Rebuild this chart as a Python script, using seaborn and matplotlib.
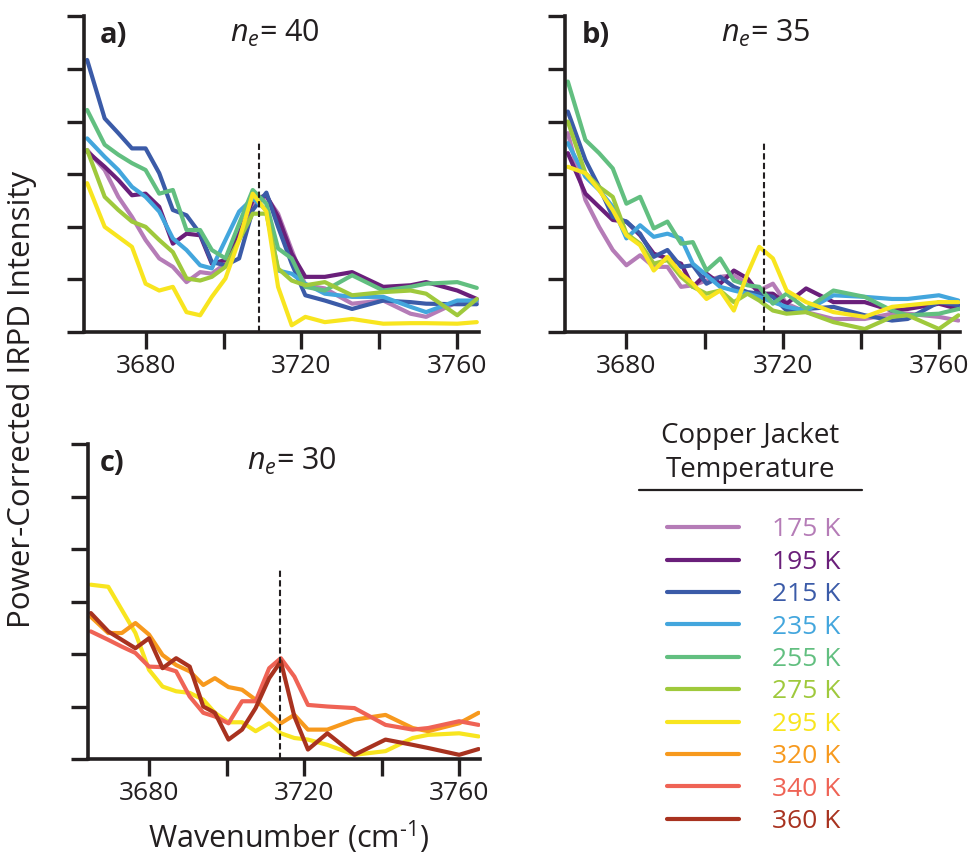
import matplotlib
matplotlib.use("Agg")
import numpy as np
import pandas as pd
import matplotlib.pyplot as plt
from matplotlib.lines import Line2D
import seaborn as sns

# ---------------- data ----------------
wavenumber = [3665, 3669.5, 3673, 3676.5, 3680, 3683.5, 3687, 3690.5, 3694, 3697,
              3700.5, 3704, 3707.5, 3711, 3714, 3717.5, 3721, 3726, 3733, 3741,
              3748, 3752, 3760, 3765]

temperatures = ["175 K", "195 K", "215 K", "235 K", "255 K", "275 K", "295 K", "320 K", "340 K", "360 K"]
temp_colors = ["#b57cb7", "#6a1f7a", "#3b5ba8", "#43a6dd", "#62bf80", "#9fc93c", "#f8e51f",
               "#f7991d", "#ef6355", "#a8321f"]

# panel a) n_e = 40
a_175 = [3.46, 3.08, 2.57, 2.19, 1.75, 1.40, 1.24, 0.95, 1.14, 1.11, 1.30, 1.75, 2.44, 2.57, 2.25, 1.56, 0.89, 0.83, 0.54, 0.60, 0.35, 0.29, 0.57, 0.57]
a_195 = [3.43, 3.14, 2.89, 2.60, 2.63, 2.38, 1.68, 1.87, 1.84, 1.30, 1.37, 1.87, 2.51, 2.60, 2.19, 1.49, 1.05, 1.05, 1.14, 0.86, 0.89, 0.95, 0.79, 0.63]
a_215 = [5.17, 4.06, 3.78, 3.49, 3.49, 3.02, 2.32, 2.22, 1.87, 1.33, 1.27, 1.40, 2.32, 2.65, 2.00, 1.30, 0.70, 0.60, 0.44, 0.60, 0.57, 0.54, 0.53, 0.53]
a_235 = [3.68, 3.33, 3.08, 2.76, 2.57, 2.29, 1.78, 1.56, 1.27, 1.21, 1.75, 2.29, 2.54, 2.32, 1.17, 1.11, 0.92, 0.73, 0.67, 0.67, 0.48, 0.38, 0.60, 0.60]
a_255 = [4.22, 3.56, 3.37, 3.21, 3.08, 2.63, 2.70, 1.94, 1.94, 1.56, 1.40, 2.06, 2.70, 2.44, 1.59, 1.40, 0.86, 0.79, 1.08, 0.79, 0.86, 0.92, 0.95, 0.84]
a_275 = [3.46, 2.57, 2.32, 2.10, 2.00, 1.75, 1.52, 1.02, 0.98, 1.05, 1.24, 1.75, 2.25, 2.25, 1.21, 0.98, 0.89, 0.95, 0.70, 0.76, 0.79, 0.73, 0.32, 0.63]
a_295 = [2.83, 2.00, 1.81, 1.62, 0.92, 0.79, 0.86, 0.38, 0.32, 0.67, 1.02, 1.75, 2.63, 2.29, 0.86, 0.13, 0.29, 0.19, 0.25, 0.16, 0.17, 0.17, 0.16, 0.19]

# panel b) n_e = 35
b_175 = [3.78, 2.51, 2.00, 1.56, 1.27, 1.46, 1.24, 1.24, 0.86, 0.89, 0.98, 1.05, 1.08, 0.92, 0.79, 0.92, 0.54, 0.38, 0.25, 0.25, 0.35, 0.35, 0.29, 0.22]
b_195 = [3.40, 2.63, 2.38, 2.13, 2.10, 1.84, 1.49, 1.40, 1.30, 0.86, 1.11, 0.92, 1.17, 1.02, 0.73, 0.73, 0.54, 0.83, 0.57, 0.57, 0.41, 0.44, 0.54, 0.44]
b_215 = [4.19, 3.27, 2.76, 2.19, 2.10, 1.87, 1.43, 1.56, 1.24, 1.27, 0.92, 1.05, 0.86, 0.76, 0.73, 0.67, 0.41, 0.44, 0.48, 0.32, 0.22, 0.25, 0.57, 0.51]
b_235 = [3.59, 2.95, 2.70, 2.38, 1.78, 2.03, 1.81, 1.87, 1.78, 1.30, 1.08, 0.86, 0.79, 0.73, 0.67, 0.57, 0.48, 0.41, 0.70, 0.67, 0.63, 0.63, 0.70, 0.60]
b_255 = [4.76, 3.65, 3.40, 3.11, 2.44, 2.57, 1.97, 2.10, 1.68, 1.71, 1.17, 1.40, 0.98, 0.89, 0.86, 0.54, 0.73, 0.44, 0.79, 0.67, 0.41, 0.32, 0.35, 0.44]
b_275 = [4.00, 3.02, 2.76, 2.57, 1.87, 1.68, 1.30, 1.37, 1.05, 0.86, 0.73, 0.79, 0.57, 0.73, 0.60, 0.41, 0.35, 0.38, 0.19, 0.06, 0.29, 0.32, 0.06, 0.32]
b_295 = [3.14, 3.02, 2.70, 2.32, 1.84, 1.65, 1.17, 1.43, 1.11, 0.92, 0.63, 0.79, 0.41, 1.11, 1.62, 1.40, 0.79, 0.57, 0.38, 0.29, 0.48, 0.51, 0.57, 0.57]

# panel c) n_e = 30
c_295 = [3.32, 3.28, 2.84, 2.40, 1.70, 1.38, 1.29, 1.26, 1.13, 0.88, 0.70, 0.70, 0.53, 0.68, 0.49, 0.40, 0.37, 0.27, 0.08, 0.15, 0.40, 0.46, 0.49, 0.43]
c_320 = [2.71, 2.40, 2.40, 2.59, 2.37, 1.98, 1.79, 1.67, 1.41, 1.54, 1.37, 1.32, 1.13, 0.88, 0.68, 0.84, 0.56, 0.56, 0.75, 0.84, 0.59, 0.53, 0.68, 0.88]
c_340 = [2.43, 2.27, 2.14, 2.02, 1.76, 1.75, 1.67, 1.19, 0.88, 0.81, 0.68, 1.10, 1.10, 1.73, 1.92, 1.57, 1.03, 1.00, 0.97, 0.65, 0.56, 0.59, 0.72, 0.65]
c_360 = [2.78, 2.43, 2.27, 2.11, 2.30, 1.73, 1.92, 1.76, 1.00, 0.88, 0.37, 0.56, 0.97, 1.54, 1.86, 0.81, 0.18, 0.49, 0.08, 0.37, 0.27, 0.21, 0.08, 0.19]

panel_letters = ["a)", "b)", "c)"]
cluster_sizes = [40, 35, 30]
peak_positions = [3709.1, 3715.2, 3713.7]
peak_line_top = 3.63

x_ticks = [3680, 3700, 3720, 3740, 3760]
x_tick_labels = ["3680", "", "3720", "", "3760"]

# ---------------- build tables ----------------
def long_table(series):
    frames = []
    for temp, vals in series:
        frames.append(pd.DataFrame({"wavenumber": wavenumber, "intensity": vals, "temperature": temp}))
    return pd.concat(frames, ignore_index=True)

df_a = long_table(list(zip(temperatures[:7], [a_175, a_195, a_215, a_235, a_255, a_275, a_295])))
df_b = long_table(list(zip(temperatures[:7], [b_175, b_195, b_215, b_235, b_255, b_275, b_295])))
df_c = long_table(list(zip(temperatures[6:], [c_295, c_320, c_340, c_360])))
palette = dict(zip(temperatures, temp_colors))

# ---------------- style ----------------
sns.set_style("ticks")
FONT = "Open Sans"
plt.rcParams["font.family"] = [FONT, "DejaVu Sans"]
plt.rcParams["mathtext.fontset"] = "custom"
plt.rcParams["mathtext.rm"] = FONT
plt.rcParams["mathtext.it"] = FONT + ":italic"
plt.rcParams["mathtext.bf"] = FONT + ":bold"
TXT = "#231f20"

fig = plt.figure(figsize=(9.77, 8.56), dpi=100)
ax_a = fig.add_axes([0.086, 0.612, 0.404, 0.369])
ax_b = fig.add_axes([0.578, 0.612, 0.405, 0.369])
ax_c = fig.add_axes([0.0898, 0.1133, 0.402, 0.368])

label_pos = [(0.04, 0.37), (0.043, 0.395), (0.031, 0.405)]

for i, (ax, df) in enumerate(zip([ax_a, ax_b, ax_c], [df_a, df_b, df_c])):
    sns.lineplot(data=df, x="wavenumber", y="intensity", hue="temperature",
                 palette=palette, estimator=None, sort=False, lw=3.0, ax=ax, legend=False)
    ax.vlines(peak_positions[i], 0, peak_line_top, colors=TXT, linestyles=(0, (3, 1.6)), lw=1.5, zorder=5)
    ax.set_xlim(3664.2, 3765.5)
    ax.set_ylim(0, 6)
    ax.set_yticks(range(7))
    ax.set_yticklabels([])
    ax.set_xticks(x_ticks)
    ax.set_xticklabels(x_tick_labels)
    ax.set_xlabel("")
    ax.set_ylabel("")
    sns.despine(ax=ax)
    for s in ["left", "bottom"]:
        ax.spines[s].set_linewidth(2.6)
        ax.spines[s].set_color(TXT)
    ax.tick_params(axis="both", direction="out", length=12, width=2.4, color=TXT,
                   labelsize=19, labelcolor=TXT, pad=4)
    ax.set_facecolor("none")
    lx, nx = label_pos[i]
    ax.text(lx, 0.985, panel_letters[i], transform=ax.transAxes, fontsize=21,
            fontweight="bold", color=TXT, va="top", ha="left")
    ax.text(nx, 0.995, r"$n_e$= " + str(cluster_sizes[i]), transform=ax.transAxes,
            fontsize=22, color=TXT, va="top", ha="left")

fig.text(0.023, 0.533, "Power-Corrected IRPD Intensity", rotation=90, fontsize=22.5,
         color=TXT, ha="center", va="center")
fig.text(0.295, 0.022, r"Wavenumber (cm$^{\text{-1}}$)", fontsize=22, color=TXT,
         ha="center", va="center")

# legend
fig.text(0.768, 0.471, "Copper Jacket\nTemperature", fontsize=20, color=TXT,
         ha="center", va="center", linespacing=1.3)
fig.add_artist(Line2D([0.654, 0.882], [0.4275, 0.4275], color=TXT, lw=1.6,
                      transform=fig.transFigure))
handles = [Line2D([], [], color=c, lw=3.0) for c in temp_colors]
leg = fig.legend(handles, temperatures, loc="upper left", bbox_to_anchor=(0.683, 0.3955),
                 frameon=False, fontsize=19, labelcolor="linecolor", handlelength=2.73,
                 handletextpad=1.25, labelspacing=0.28, borderpad=0, borderaxespad=0)

fig.savefig("out.png", dpi=100)
